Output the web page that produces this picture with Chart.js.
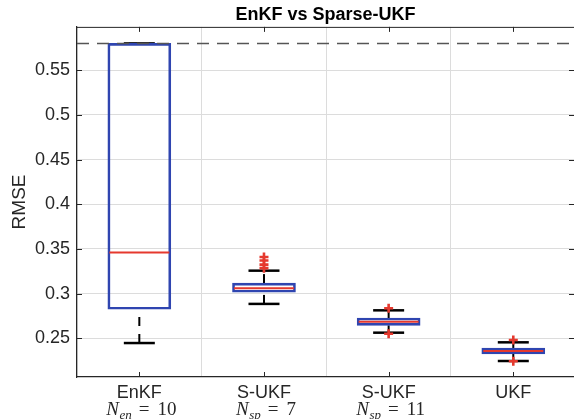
<!DOCTYPE html>
<html>
<head>
<meta charset="utf-8">
<title>EnKF vs Sparse-UKF</title>
<script src="https://cdn.jsdelivr.net/npm/chart.js@4.4.1/dist/chart.umd.min.js"></script>
<style>
  html, body { margin: 0; padding: 0; background: #ffffff; }
  #c { display: block; }
</style>
</head>
<body>
<canvas id="c" width="574" height="419"></canvas>
<script>
// Filter groups and the RMSE summary of each group
const categories = ['EnKF', 'S-UKF', 'S-UKF', 'UKF'];
// second label line: symbol, subscript, value
const subLabels = [['N', 'en', '10'], ['N', 'sp', '7'], ['N', 'sp', '11'], null];

const q1 = [0.2825, 0.3015, 0.2645, 0.2325];
const median = [0.346, 0.306, 0.2686, 0.2358];
const q3 = [0.580, 0.3118, 0.2727, 0.2392];
const whiskerLow = [0.2447, 0.2885, 0.2563, 0.2246];
const whiskerHigh = [0.580, 0.3257, 0.2813, 0.2455];
const outliers = [[], [0.341, 0.337, 0.3325, 0.3285], [0.2551, 0.2836], [0.2243, 0.2481]];

const referenceLevel = 0.58;
const yTicks = [0.25, 0.3, 0.35, 0.4, 0.45, 0.5, 0.55];
const yRange = [0.2067, 0.5985];

const BLUE = '#2f45b0';
const RED = '#e5392e';
const INK = '#262626';

const xPos = categories.map((_, i) => i + 1);

// whisker stems, each drawn from its lower end upwards
const stems = [];
categories.forEach((_, i) => {
  [[whiskerLow[i], q1[i]], [q3[i], whiskerHigh[i]]].forEach(([a, b]) => {
    if (b > a) {
      stems.push({
        type: 'line',
        data: [{ x: xPos[i], y: a }, { x: xPos[i], y: b }],
        borderColor: '#000000',
        borderWidth: 2,
        borderDash: [9, 8],
        pointRadius: 0,
        fill: false
      });
    }
  });
});

const outlierPoints = [];
outliers.forEach((vals, i) => vals.forEach(v => outlierPoints.push({ x: xPos[i], y: v })));

const capPoints = [];
categories.forEach((_, i) => {
  capPoints.push({ x: xPos[i], y: whiskerLow[i] });
  capPoints.push({ x: xPos[i], y: whiskerHigh[i] });
});

const datasets = [
  {
    type: 'line',
    data: outlierPoints,
    showLine: false,
    pointStyle: 'cross',
    pointRadius: 4.5,
    pointBorderWidth: 2.6,
    pointBorderColor: RED,
    pointBackgroundColor: RED
  },
  {
    type: 'line',
    data: median.map((v, i) => ({ x: xPos[i], y: v })),
    showLine: false,
    pointStyle: 'line',
    pointRadius: 30,
    pointBorderWidth: 2,
    pointBorderColor: RED
  },
  {
    type: 'bar',
    data: categories.map((_, i) => ({ x: xPos[i], y: [q1[i], q3[i]] })),
    backgroundColor: 'rgba(0,0,0,0)',
    borderColor: BLUE,
    borderWidth: 2,
    borderSkipped: false,
    barThickness: 63,
    grouped: false
  },
  {
    type: 'line',
    data: capPoints,
    showLine: false,
    pointStyle: 'line',
    pointRadius: 15.5,
    pointBorderWidth: 2.5,
    pointBorderColor: '#000000'
  },
  ...stems
];

// frame edge, inward tick marks, reference level and the math sub-labels
const axisDecor = {
  id: 'axisDecor',
  afterDatasetsDraw(chart) {
    const { ctx, chartArea: a, scales: { x, y } } = chart;
    ctx.save();
    const yr = Math.round(y.getPixelForValue(referenceLevel)) + 0.5;
    ctx.strokeStyle = '#555555';
    ctx.lineWidth = 1.4;
    ctx.setLineDash([12, 8]);
    ctx.beginPath();
    ctx.moveTo(a.left, yr);
    ctx.lineTo(a.right, yr);
    ctx.stroke();
    ctx.setLineDash([]);

    ctx.strokeStyle = INK;
    ctx.lineWidth = 1;
    ctx.beginPath();
    ctx.moveTo(a.left, a.top + 0.5);
    ctx.lineTo(a.right, a.top + 0.5);
    x.ticks.forEach(t => {
      const px = Math.round(x.getPixelForValue(t.value)) + 0.5;
      ctx.moveTo(px, a.bottom);
      ctx.lineTo(px, a.bottom - 5);
      ctx.moveTo(px, a.top);
      ctx.lineTo(px, a.top + 5);
    });
    y.ticks.forEach(t => {
      const py = Math.round(y.getPixelForValue(t.value)) + 0.5;
      ctx.moveTo(a.left, py);
      ctx.lineTo(a.left + 5, py);
      ctx.moveTo(a.right, py);
      ctx.lineTo(a.right - 5, py);
    });
    ctx.stroke();
    ctx.restore();
  },
  afterDraw(chart) {
    const { ctx, scales: { x } } = chart;
    ctx.save();
    ctx.fillStyle = INK;
    ctx.textBaseline = 'alphabetic';
    ctx.textAlign = 'left';
    const base = x.top + 37.5;
    subLabels.forEach((lab, i) => {
      if (!lab) return;
      const [sym, sub, val] = lab;
      const parts = [
        { t: sym, f: 'italic 19px "Liberation Serif"', dy: 0, after: 0.5 },
        { t: sub, f: 'italic 13px "Liberation Serif"', dy: 4, after: 7 },
        { t: '=', f: '19px "Liberation Serif"', dy: 0, after: 8 },
        { t: val, f: '19px "Liberation Serif"', dy: 0, after: 0 }
      ];
      let total = 0;
      parts.forEach(p => {
        ctx.font = p.f;
        p.w = ctx.measureText(p.t).width;
        total += p.w + p.after;
      });
      let cx = x.getPixelForValue(xPos[i]) - total / 2 + 2;
      parts.forEach(p => {
        ctx.font = p.f;
        ctx.fillText(p.t, cx, base + p.dy);
        cx += p.w + p.after;
      });
    });
    ctx.restore();
  }
};

Chart.defaults.font.family = '"Liberation Sans", Arial, sans-serif';
Chart.defaults.color = INK;

new Chart(document.getElementById('c'), {
  type: 'bar',
  data: { datasets },
  options: {
    responsive: false,
    animation: false,
    devicePixelRatio: 1,
    events: [],
    layout: { autoPadding: false, padding: { left: 0, right: 0, top: 0, bottom: 0 } },
    plugins: {
      legend: { display: false },
      tooltip: { enabled: false },
      title: {
        display: true,
        fullSize: false,
        text: 'EnKF vs Sparse-UKF',
        color: '#000000',
        font: { size: 18, weight: 'bold', lineHeight: 1.16 },
        padding: { top: 5, bottom: 1 }
      }
    },
    scales: {
      x: {
        type: 'linear',
        min: 0.5,
        max: 4.487,
        offset: false,
        afterBuildTicks: s => { s.ticks = xPos.map(v => ({ value: v })); },
        afterFit: s => { s.height = 42; },
        ticks: {
          callback: v => categories[v - 1],
          font: { size: 18 },
          color: INK,
          padding: 5,
          maxRotation: 0,
          autoSkip: false
        },
        grid: { color: '#dcdcdc', lineWidth: 1, drawTicks: false },
        border: { color: INK, width: 1.2 }
      },
      y: {
        type: 'linear',
        min: yRange[0],
        max: yRange[1],
        afterBuildTicks: s => { s.ticks = yTicks.map(v => ({ value: v })); },
        afterFit: s => { s.width = 77; },
        ticks: {
          callback: v => String(v),
          font: { size: 18 },
          color: INK,
          padding: 7
        },
        title: {
          display: true,
          text: 'RMSE',
          font: { size: 19 },
          color: INK,
          padding: { top: 8, bottom: 0 }
        },
        grid: { color: '#dcdcdc', lineWidth: 1, drawTicks: false },
        border: { color: INK, width: 1.2 }
      }
    }
  },
  plugins: [axisDecor]
});
</script>
</body>
</html>
